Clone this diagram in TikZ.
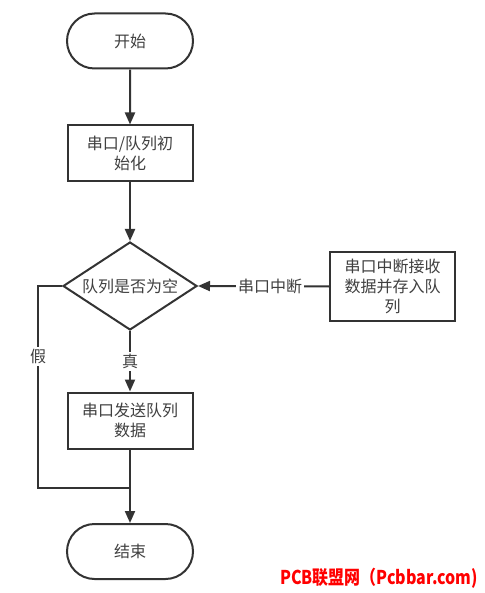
\documentclass[tikz,border=0pt]{standalone}
\usepackage{fontspec}
\newfontfamily\cjk{Noto Sans CJK SC}
\usetikzlibrary{shapes.geometric,shapes.misc,arrows.meta}
\definecolor{ln}{HTML}{333333}
\definecolor{tx}{HTML}{404040}
\tikzset{
  base/.style={draw=ln,line width=2pt,text=tx,font=\cjk\fontsize{16}{20}\selectfont,align=center,fill=white},
  term/.style={base,rounded rectangle,minimum width=126pt,minimum height=55pt,inner sep=0pt},
  proc/.style={base,rectangle,minimum width=125pt,minimum height=56pt,inner sep=2pt},
  dec/.style={base,diamond,aspect=1.52,minimum width=134pt,minimum height=88pt,inner sep=0pt},
  conn/.style={draw=ln,line width=2pt,-{Triangle[length=12pt,width=10pt]}},
  plain/.style={draw=ln,line width=2pt},
  lbl/.style={fill=white,text=tx,font=\cjk\fontsize{16}{20}\selectfont,inner sep=2pt}
}
\begin{document}
\begin{tikzpicture}[x=1pt,y=-1pt]
\useasboundingbox (0,0) rectangle (484,593);
\node[term] (start) at (130,41) {开始};
\node[proc] (init) at (130,153.5) {串口/队列初\\始化};
\node[dec] (q) at (130,286) {队列是否为空};
\node[proc,minimum width=125pt,minimum height=69pt] (isr) at (392.5,286.5) {串口中断接收\\数据并存入队\\列};
\node[proc] (send) at (130,420.5) {串口发送队列\\数据};
\node[term] (stop) at (130,551.5) {结束};
\coordinate (lc) at (38,286);
\coordinate (ld) at (38,488);
\coordinate (md) at (130,488);
\draw[conn] (start) -- (init);
\draw[conn] (init) -- (q);
\draw[conn] (isr.west) -- node[lbl,pos=0.45]{串口中断} (q.east);
\draw[conn] (q.south) -- node[lbl,pos=0.5]{真} (send.north);
\draw[conn] (send) -- (stop);
\draw[plain] (q.west) -- (lc) -- node[lbl,pos=0.35]{假} (ld) -- (md);
\node[text=red,font=\cjk\bfseries\fontsize{19}{22}\selectfont,anchor=east,inner sep=0pt,xscale=0.84] (wm) at (478,578) {PCB联盟网（Pcbbar.com)};
\end{tikzpicture}
\end{document}
